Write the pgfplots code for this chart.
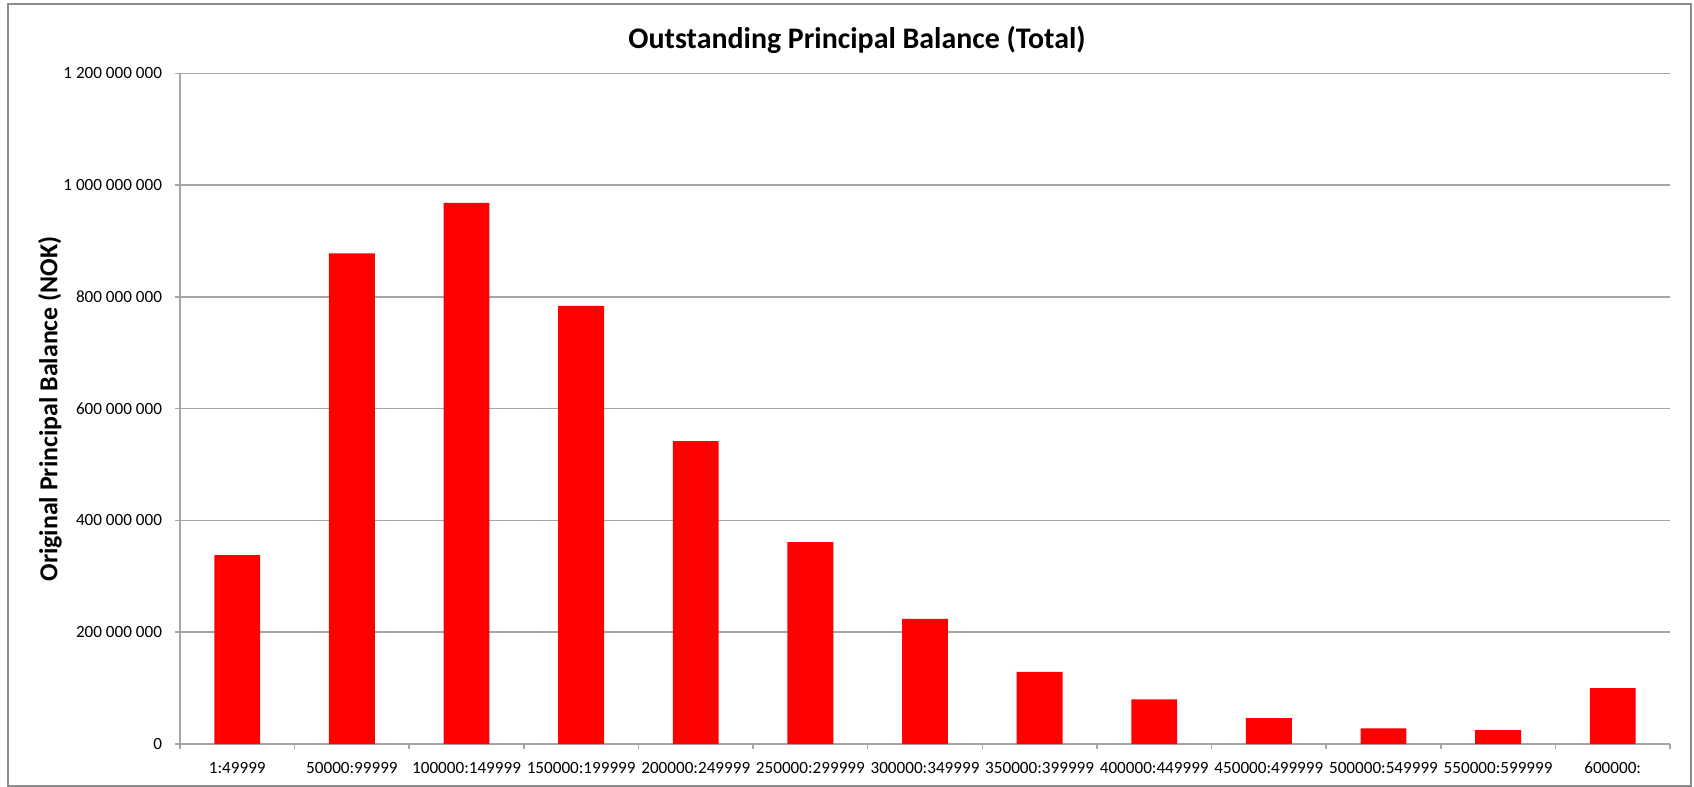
\documentclass[border=0pt]{standalone}
\usepackage{pgfplots}
\pgfplotsset{compat=1.18}
\usepackage{fontspec}
\setmainfont{Carlito}
\definecolor{gridgray}{HTML}{A6A6A6}
\definecolor{bordergray}{HTML}{8C8C8C}
\definecolor{barred}{HTML}{FF0000}
\begin{document}
\begin{tikzpicture}
\begin{axis}[
  at={(0,0)}, anchor=south west,
  scale only axis, width=745bp, height=335.35bp,
  xmin=-0.5, xmax=12.5, ymin=0, ymax=1.2e9,
  scaled y ticks=false,
  axis x line*=bottom, axis y line*=left,
  axis line style={draw=gridgray, line width=0.75bp},
  tick align=outside, major tick length=2.5bp,
  tick style={draw=gridgray, line width=0.75bp},
  ymajorgrids, grid style={draw=gridgray, line width=0.75bp},
  ytick={0,200000000,400000000,600000000,800000000,1000000000,1200000000},
  yticklabels={0,200 000 000,400 000 000,600 000 000,800 000 000,1 000 000 000,1 200 000 000},
  yticklabel style={font=\fontsize{8.6}{10}\selectfont, xshift=-3bp},
  xtick={-0.5,0.5,...,12.5},
  xticklabels={},
  extra x ticks={0,1,2,3,4,5,6,7,8,9,10,11,12},
  extra x tick labels={1:49999,50000:99999,100000:149999,150000:199999,200000:249999,250000:299999,300000:349999,350000:399999,400000:449999,450000:499999,500000:549999,550000:599999,600000:},
  extra x tick style={major tick length=0pt, tick style={draw=none}},
  xticklabel style={font=\fontsize{8.6}{10}\selectfont, yshift=-5.5bp},
  clip=false,
]
\addplot[ybar, bar width=0.4, fill=barred, draw=none] coordinates {
  (0,338000000) (1,878000000) (2,968000000) (3,784000000) (4,542000000)
  (5,361000000) (6,224000000) (7,129000000) (8,80000000) (9,46500000)
  (10,28000000) (11,25000000) (12,100000000)
};
\end{axis}
\node[anchor=base, font=\bfseries\fontsize{15}{18}\selectfont] at (338.5bp,347.5bp) {Outstanding Principal Balance (Total)};
\node[rotate=90, anchor=base, font=\bfseries\fontsize{13}{15}\selectfont] at (-61.35bp,167.5bp) {Original Principal Balance (NOK)};
\draw[bordergray, line width=0.8bp] (-86bp,-20.85bp) rectangle (755.5bp,370bp);
\pgfresetboundingbox
\path[use as bounding box] (-90bp,-21.5bp) rectangle (757bp,372bp);
\end{tikzpicture}
\end{document}
